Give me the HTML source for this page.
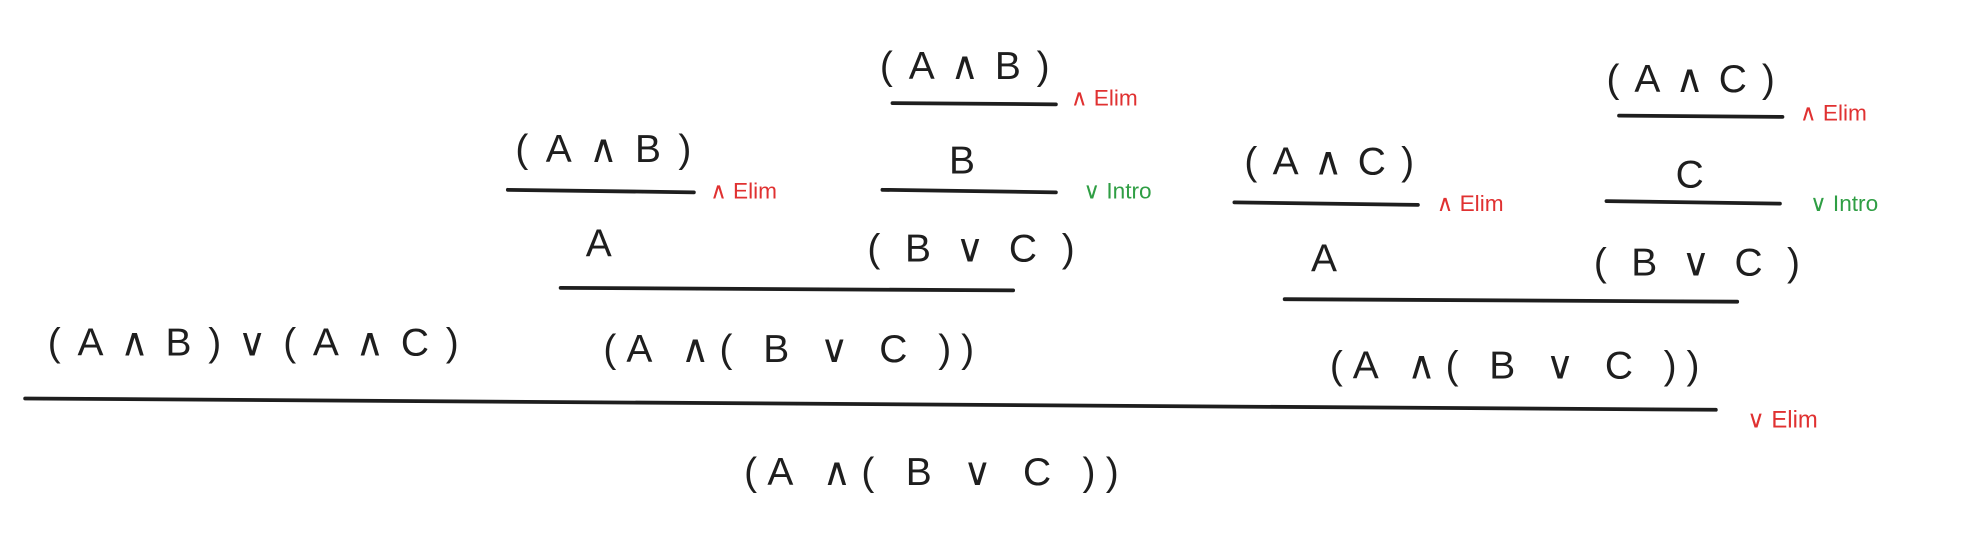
<!DOCTYPE html>
<html><head><meta charset="utf-8"><style>
html,body{margin:0;padding:0;background:#fff;}
svg{display:block;}
text{font-family:"Liberation Sans","DejaVu Sans",sans-serif;}
.m{font-size:31px;fill:#1e1e1e;}
.r{font-size:18px;fill:#e03131;}
.g{font-size:18px;fill:#2f9e44;}
line{stroke:#1e1e1e;stroke-width:3;stroke-linecap:round;}
</style></head><body>
<svg width="1971" height="555" viewBox="0 0 1568 441.5" xmlns="http://www.w3.org/2000/svg">
<text class="m" x="700" y="63" textLength="135" lengthAdjust="spacing">(A∧B)</text>
<line x1="710" y1="82" x2="840" y2="83"/>
<text class="r" x="852" y="84">∧ Elim</text>

<text class="m" x="410" y="129" textLength="140" lengthAdjust="spacing">(A∧B)</text>
<line x1="404" y1="151" x2="552" y2="153"/>
<text class="r" x="565" y="158">∧ Elim</text>

<text class="m" x="755" y="138">B</text>
<line x1="702" y1="151" x2="840" y2="153"/>
<text class="g" x="862" y="158">∨ Intro</text>

<text class="m" x="466" y="204">A</text>
<text class="m" x="690" y="208" textLength="165" lengthAdjust="spacing">( B ∨ C )</text>
<line x1="446" y1="229" x2="806" y2="231"/>
<text class="m" x="480" y="288" textLength="295" lengthAdjust="spacing">(A ∧( B ∨ C ))</text>

<text class="m" x="1278" y="73" textLength="134" lengthAdjust="spacing">(A∧C)</text>
<line x1="1288" y1="92" x2="1418" y2="93"/>
<text class="r" x="1432" y="96">∧ Elim</text>

<text class="m" x="990" y="139" textLength="135" lengthAdjust="spacing">(A∧C)</text>
<line x1="982" y1="161" x2="1128" y2="163"/>
<text class="r" x="1143" y="168">∧ Elim</text>

<text class="m" x="1333" y="149">C</text>
<line x1="1278" y1="160" x2="1416" y2="162"/>
<text class="g" x="1440" y="168">∨ Intro</text>

<text class="m" x="1043" y="216">A</text>
<text class="m" x="1268" y="219" textLength="164" lengthAdjust="spacing">( B ∨ C )</text>
<line x1="1022" y1="238" x2="1382" y2="240"/>
<text class="m" x="1058" y="301" textLength="294" lengthAdjust="spacing">(A ∧( B ∨ C ))</text>

<text class="m" x="38" y="283" textLength="327" lengthAdjust="spacing">(A∧B)∨(A∧C)</text>
<line x1="20" y1="317" x2="1365" y2="326"/>
<text class="r" x="1390" y="340" style="font-size:19px">∨ Elim</text>
<text class="m" x="592" y="386" textLength="298" lengthAdjust="spacing">(A ∧( B ∨ C ))</text>
</svg>
</body></html>
